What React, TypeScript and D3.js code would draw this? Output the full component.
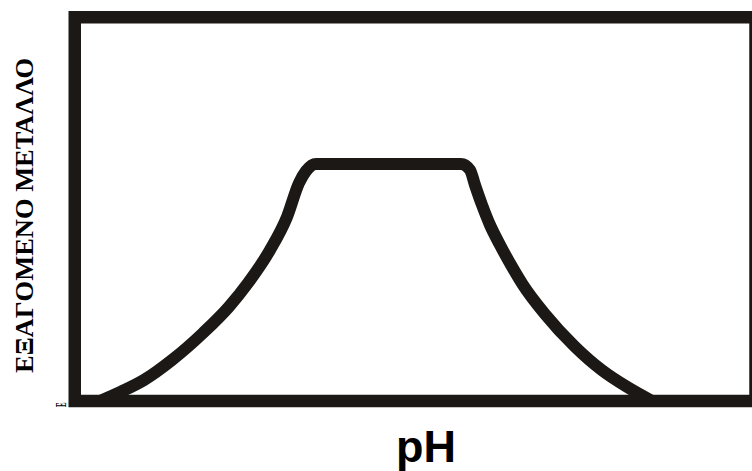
import React from "react";
import * as d3 from "d3";

// Extraction curve: metal extracted (%) versus pH
const phValues = [0.519, 0.951, 1.424, 2.0, 2.638, 3.172, 3.563, 4.016, 4.365, 4.612, 4.756, 4.962, 7.944, 8.129, 8.231, 8.376, 8.54, 8.746, 8.972, 9.219, 9.651, 10.288, 10.837, 11.351, 11.872];
const extracted = [0, 2.42, 5.47, 10.68, 17.72, 24.57, 30.75, 39.35, 47.95, 56.81, 59.93, 61.76, 61.76, 60.2, 56.29, 51.07, 45.86, 40.65, 35.44, 30.23, 22.93, 14.15, 8.08, 3.73, 0];

const xDomain = [0, 14];
const yDomain = [0, 100];

const yTitle = "ΕΞΑΓΟΜΕΝΟ ΜΕΤΑΛΛΟ";
const xTitle = "pH";
const yTickLabel = "Ε";

const W = 752;
const H = 471;
const plot = { left: 74.75, right: 755.5, top: 17.25, bottom: 401 };
const ink = "#1c1816";

export default function App() {
  const x = d3.scaleLinear().domain(xDomain).range([plot.left, plot.right]);
  const y = d3.scaleLinear().domain(yDomain).range([plot.bottom, plot.top]);

  const pts: [number, number][] = phValues.map((p, i) => [p, extracted[i]]);
  const line = d3
    .line<[number, number]>()
    .x((d) => x(d[0]))
    .y((d) => y(d[1]))
    .curve(d3.curveMonotoneX);

  return (
    <svg
      width={W}
      height={H}
      viewBox={`0 0 ${W} ${H}`}
      style={{ position: "absolute", left: 0, top: 0, background: "#fff" }}
    >
      <path d={line(pts) ?? ""} fill="none" stroke={ink} strokeWidth={12} strokeLinejoin="round" strokeLinecap="round" />
      <rect
        x={plot.left}
        y={plot.top}
        width={plot.right - plot.left}
        height={plot.bottom - plot.top}
        fill="none"
        stroke={ink}
        strokeWidth={12.5}
      />
      <text
        transform={`translate(66,407) rotate(-90) scale(0.45,1)`}
        fontFamily="Liberation Serif"
        fontWeight="bold"
        fontSize={15}
        fill="#000"
      >
        {yTickLabel}
      </text>
      <text
        transform={`translate(33,215.5) rotate(-90)`}
        textAnchor="middle"
        fontFamily="Liberation Serif"
        fontWeight="bold"
        fontSize={25}
        textLength={315}
        lengthAdjust="spacingAndGlyphs"
        fill="#000"
      >
        {yTitle}
      </text>
      <text
        x={426}
        y={462}
        textAnchor="middle"
        fontFamily="Liberation Sans"
        fontWeight="bold"
        fontSize={45}
        fill="#000"
      >
        {xTitle}
      </text>
    </svg>
  );
}
